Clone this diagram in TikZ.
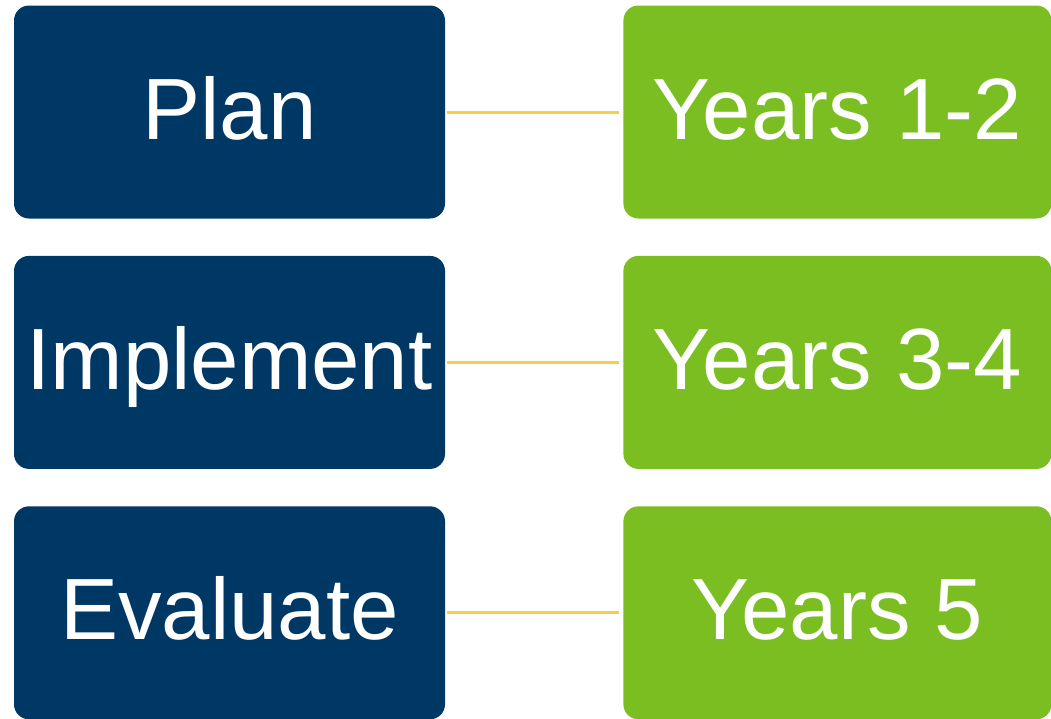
\documentclass[tikz,border=0pt]{standalone}
\usepackage{fontspec}
\setmainfont{Liberation Sans}
\usetikzlibrary{positioning}
\definecolor{planblue}{HTML}{003865}
\definecolor{yeargreen}{HTML}{7BBE22}
\definecolor{linkgold}{HTML}{F6CF47}
\tikzset{
  stagebox/.style={fill=planblue, text=white, rounded corners=15pt,
    minimum width=431pt, minimum height=213pt, inner sep=0pt,
    font=\fontsize{87}{92}\selectfont, text height=54pt, text depth=0pt},
  yearbox/.style={stagebox, fill=yeargreen, minimum width=428pt},
  link/.style={linkgold, line width=3pt, shorten <=2pt, shorten >=4pt}
}

\begin{document}
\begin{tikzpicture}[node distance=37pt and 178pt]

  \useasboundingbox (0,0) rectangle (1051pt,-718pt);

  % stages
  \node[stagebox] (plan) at (229.5pt,-112pt) {Plan};
  \node[stagebox, below=of plan] (implement) {Implement};
  \node[stagebox, below=of implement] (evaluate) {Evaluate};

  % years
  \node[yearbox, right=of plan] (yone) {Years 1-2};
  \node[yearbox, right=of implement] (ythree) {Years 3-4};
  \node[yearbox, right=of evaluate] (yfive) {Years 5};

  \draw[link] (plan) -- (yone);
  \draw[link] (implement) -- (ythree);
  \draw[link] (evaluate) -- (yfive);

\end{tikzpicture}
\end{document}
